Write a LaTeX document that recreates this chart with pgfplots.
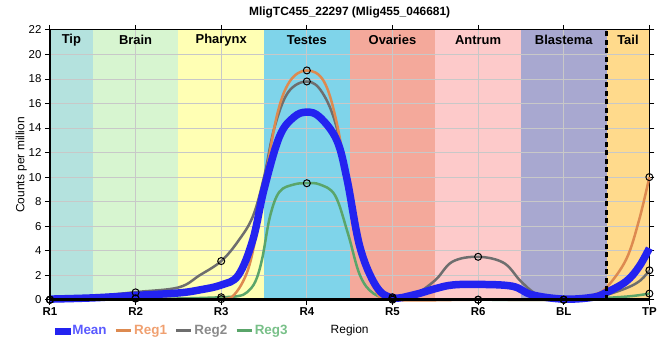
\documentclass[border=0pt]{standalone}
\usepackage{fontspec}
\setmainfont{Liberation Sans}
\usepackage{pgfplots}
\pgfplotsset{compat=1.18}
\definecolor{cTip}{HTML}{B4E2DE}
\definecolor{cBrain}{HTML}{D7F5D0}
\definecolor{cPhar}{HTML}{FFFFB4}
\definecolor{cTest}{HTML}{7FD4EA}
\definecolor{cOva}{HTML}{F4A99B}
\definecolor{cAntr}{HTML}{FDCACA}
\definecolor{cBlas}{HTML}{A8A8D0}
\definecolor{cTail}{HTML}{FFDA8C}
\definecolor{cMean}{HTML}{2323F0}
\definecolor{cReg1}{HTML}{DD8A50}
\definecolor{cReg2}{HTML}{6E6E6E}
\definecolor{cReg3}{HTML}{5AA56A}
\definecolor{tMean}{HTML}{5A5AFF}
\definecolor{tReg1}{HTML}{F0A070}
\definecolor{tReg2}{HTML}{8A8A8A}
\definecolor{tReg3}{HTML}{78C088}
\definecolor{cGrid}{HTML}{C8C8C8}
\tikzset{reglab/.style={font=\bfseries\fontsize{13}{14}\selectfont, anchor=center}}
\begin{document}
\begin{tikzpicture}
\begin{axis}[
  set layers,
  at={(0,0)}, anchor=south west,
  scale only axis, width=600bp, height=270bp,
  xmin=0, xmax=7, ymin=0, ymax=22,
  xtick={0,1,2,3,4,5,6,7},
  xticklabels={R1,R2,R3,R4,R5,R6,BL,TP},
  ytick={0,2,...,22},
  grid=major,
  major grid style={cGrid, line width=1bp},
  tick align=outside,
  major tick length=5bp,
  tick style={black, line width=1bp},
  axis line style={black, line width=1bp},
  clip=false,
  x tick label style={font=\bfseries\fontsize{11.5}{12}\selectfont, yshift=1bp},
  y tick label style={font=\fontsize{11.5}{12}\selectfont},
  /pgf/number format/assume math mode=true,
  title={MligTC455\_22297 (Mlig455\_046681)},
  title style={font=\bfseries\fontsize{12}{14}\selectfont, at={(axis description cs:0.5,1)}, anchor=center, yshift=12bp},
  ylabel={Counts per million},
  ylabel style={font=\fontsize{12}{14}\selectfont, at={(axis description cs:-0.048,0.5)}, anchor=center},
  xlabel={Region},
  xlabel style={font=\fontsize{12}{14}\selectfont, at={(axis description cs:0.5,-0.115)}, anchor=center},
  legend style={at={(axis description cs:0.008,-0.115)}, anchor=west, draw=none, fill=none,
    font=\bfseries\fontsize{13.5}{15}\selectfont, inner sep=0pt,
    /tikz/every even column/.append style={column sep=6bp}},
  legend columns=4,
  legend cell align=left,
]
\begin{pgfonlayer}{axis background}
\fill[cTip]   (axis cs:0,0)   rectangle (axis cs:0.5,22);
\fill[cBrain] (axis cs:0.5,0) rectangle (axis cs:1.5,22);
\fill[cPhar]  (axis cs:1.5,0) rectangle (axis cs:2.5,22);
\fill[cTest]  (axis cs:2.5,0) rectangle (axis cs:3.5,22);
\fill[cOva]   (axis cs:3.5,0) rectangle (axis cs:4.5,22);
\fill[cAntr]  (axis cs:4.5,0) rectangle (axis cs:5.5,22);
\fill[cBlas]  (axis cs:5.5,0) rectangle (axis cs:6.5,22);
\fill[cTail]  (axis cs:6.5,0) rectangle (axis cs:7,22);
\end{pgfonlayer}

\addlegendimage{legend image code/.code={\fill[cMean] (0bp,-3bp) rectangle (15bp,3bp);}}
\addlegendentry{\textcolor{tMean}{Mean}}
\addlegendimage{legend image code/.code={\draw[cReg1, line width=2.5bp] (0bp,0bp) -- (15bp,0bp);}}
\addlegendentry{\textcolor{tReg1}{Reg1}}
\addlegendimage{legend image code/.code={\draw[cReg2, line width=2.5bp] (0bp,0bp) -- (15bp,0bp);}}
\addlegendentry{\textcolor{tReg2}{Reg2}}
\addlegendimage{legend image code/.code={\draw[cReg3, line width=2.5bp] (0bp,0bp) -- (15bp,0bp);}}
\addlegendentry{\textcolor{tReg3}{Reg3}}

% Reg3 curve
\addplot[cReg3, line width=2.5bp, smooth, tension=0.6, no marks, forget plot] coordinates {
(0,0) (0.5,0.05) (1,0.1) (1.5,0.1) (2,0.2) (2.2,0.3) (2.3,0.6) (2.4,1.5) (2.48,3.4) (2.57,6.8) (2.68,8.8) (2.85,9.4) (3,9.5) (3.15,9.4) (3.33,8.5) (3.48,5.4) (3.62,2.0) (3.78,0.5) (4,0.1) (4.5,0.02) (5,0) (6,0) (6.5,0.15) (6.8,0.3) (7,0.5)};
% Reg2 curve
\addplot[cReg2, line width=2.5bp, smooth, tension=0.6, no marks, forget plot] coordinates {
(0,0) (0.5,0.25) (1,0.62) (1.5,1.0) (1.75,2.0) (2,3.15) (2.2,4.8) (2.37,6.8) (2.5,10.0) (2.62,14.0) (2.78,16.9) (3,17.8) (3.18,16.9) (3.35,14.0) (3.5,8.5) (3.62,4.3) (3.78,1.3) (3.92,0.35) (4,0.2) (4.25,0.4) (4.5,1.6) (4.7,3.1) (5,3.5) (5.3,3.0) (5.5,1.5) (5.7,0.4) (6,0.03) (6.3,0.15) (6.5,0.4) (6.75,1.0) (6.9,1.6) (7,2.4)};
% Reg1 curve
\addplot[cReg1, line width=2.5bp, smooth, tension=0.6, no marks, forget plot] coordinates {
(0,0) (0.5,0.05) (1,0.1) (1.5,0.05) (2,0.05) (2.15,0.4) (2.3,2.2) (2.4,5.0) (2.5,9.2) (2.65,15.0) (2.8,17.8) (3,18.7) (3.2,17.8) (3.35,14.4) (3.5,8.5) (3.65,3.5) (3.8,0.8) (4,0) (5,0) (6,0) (6.2,0.1) (6.35,0.4) (6.5,1.0) (6.73,3.3) (6.88,6.5) (7,10)};
% Mean curve
\addplot[cMean, line width=7.5bp, smooth, tension=0.6, no marks, forget plot] coordinates {
(0,0.05) (0.5,0.15) (1,0.35) (1.5,0.55) (1.75,0.8) (2,1.2) (2.2,2.0) (2.37,4.9) (2.5,9.0) (2.68,13.3) (2.85,14.9) (3,15.3) (3.15,14.9) (3.35,13.0) (3.47,9.8) (3.62,4.3) (3.81,1.1) (4,0.15) (4.25,0.4) (4.5,0.9) (4.7,1.2) (5,1.25) (5.4,1.1) (5.63,0.4) (6,0.05) (6.34,0.2) (6.5,0.6) (6.73,1.5) (6.88,2.7) (7,4.2)};

% markers
\addplot[only marks, mark=o, mark size=3.5bp, mark options={draw=black, fill=white, fill opacity=0.5, line width=1bp}, forget plot] coordinates {
(0,0) (1,0.1) (2,0.05) (3,18.7) (4,0) (5,0) (6,0) (7,10)};
\addplot[only marks, mark=o, mark size=3.5bp, mark options={draw=black, fill=white, fill opacity=0.5, line width=1bp}, forget plot] coordinates {
(0,0) (1,0.6) (2,3.15) (3,17.8) (4,0.2) (5,3.5) (6,0) (7,2.4)};
\addplot[only marks, mark=o, mark size=3.5bp, mark options={draw=black, fill=white, fill opacity=0.5, line width=1bp}, forget plot] coordinates {
(0,0) (1,0.1) (2,0.2) (3,9.5) (4,0.1) (5,0) (6,0) (7,0.5)};

\begin{pgfonlayer}{axis foreground}
\draw[black, line width=2.5bp] (rel axis cs:0,0) -- (rel axis cs:0,1);
\draw[black, line width=2.5bp] (rel axis cs:0,0) -- (rel axis cs:1,0);
\draw[black, line width=2.2bp, dash pattern=on 5bp off 3.5bp] (axis cs:6.5,0) -- (axis cs:6.5,22);
\end{pgfonlayer}

\node[reglab] at (axis cs:0.25,21.2) {Tip};
\node[reglab] at (axis cs:1,21.2) {Brain};
\node[reglab] at (axis cs:2,21.2) {Pharynx};
\node[reglab] at (axis cs:3,21.2) {Testes};
\node[reglab] at (axis cs:4,21.2) {Ovaries};
\node[reglab] at (axis cs:5,21.2) {Antrum};
\node[reglab] at (axis cs:6,21.2) {Blastema};
\node[reglab] at (axis cs:6.75,21.2) {Tail};
\end{axis}
\path (-50bp,-60bp) rectangle (610bp,300bp);
\end{tikzpicture}
\end{document}
